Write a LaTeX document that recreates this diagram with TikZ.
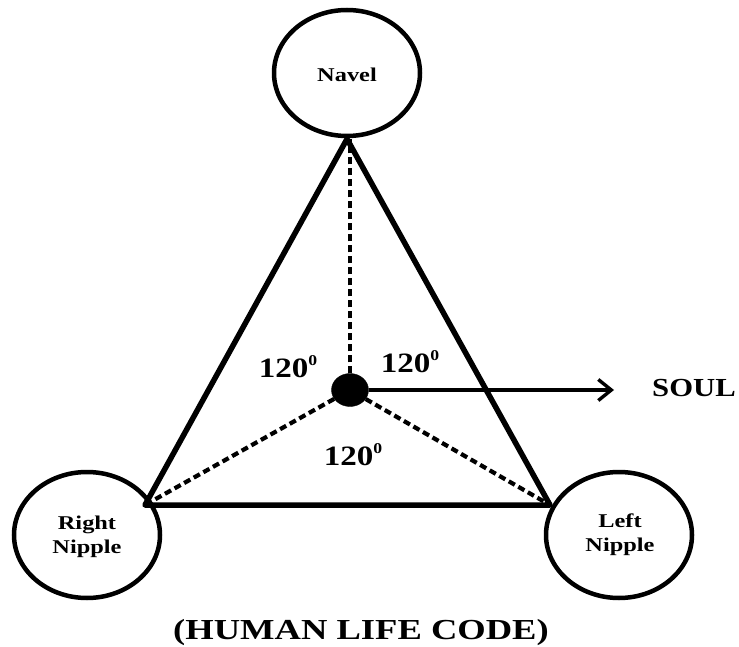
\documentclass[tikz,border=0pt]{standalone}
\usepackage{fontspec}
\setmainfont{Liberation Serif}
\usetikzlibrary{arrows.meta,shapes.geometric}
\newcommand\widetxt[2][1.25]{\scalebox{#1}[1]{#2}}
\newcommand\degz{\raisebox{0.42em}{\fontsize{15}{15}\selectfont 0}}
\tikzset{
  organ/.style={draw, line width=4.5pt, ellipse, minimum width=146pt, minimum height=126pt, inner sep=0pt},
  side/.style={line width=5.5pt, line cap=round, line join=round},
  dashline/.style={line width=4.2pt, dash pattern=on 7pt off 4pt},
  angle/.style={inner sep=0pt, align=center, font=\bfseries},
  small/.style={font=\fontsize{19.5}{24}\selectfont\bfseries},
  big/.style={font=\fontsize{28}{32}\selectfont\bfseries},
  soulline/.style={line width=3.4pt, -{Straight Barb[length=13pt, width=21pt, line width=3.4pt]}}
}
\begin{document}
\begin{tikzpicture}[x=1pt,y=-1pt]
\useasboundingbox (0,0) rectangle (739,647);
% organs
\node[organ] (navel) at (347,73) {};
\node[organ] (right) at (87,535) {};
\node[organ] (left) at (619,535) {};
\node[angle, small] (navelt) at (347,75) {\widetxt{Navel}};
\node[angle, small] (rightt) at (87,537) {\widetxt{Right}\\\widetxt{Nipple}};
\node[angle, small] (leftt) at (620,535) {\widetxt{Left}\\\widetxt{Nipple}};
% triangle vertices
\coordinate (apex) at (347,139);
\coordinate (lv) at (145,505);
\coordinate (rv) at (550,505);
% soul dot
\node[draw, fill=black, ellipse, minimum width=37pt, minimum height=33pt, inner sep=0pt] (dot) at (350,390) {};
% triangle
\draw[side] (apex) -- (lv) -- (rv) -- cycle;
% dashed lines
\draw[dashline] (dot) -- (dot.north |- apex);
\draw[dashline] (dot) -- (lv);
\draw[dashline] (dot) -- (rv);
% soul arrow
\node[angle, anchor=west, font=\fontsize{26}{30}\selectfont\bfseries] (soul) at (652,388) {\widetxt[1.18]{SOUL}};
\coordinate (soulend) at (614,390);
\draw[soulline] (dot.east) -- (soulend);
% angles
\node[angle, big] (a1) at (288,367) {\widetxt[1.18]{120\degz}};
\node[angle, big] (a2) at (410,362) {\widetxt[1.18]{120\degz}};
\node[angle, big] (a3) at (353,455) {\widetxt[1.18]{120\degz}};
% title
\node[angle, font=\fontsize{29}{33}\selectfont\bfseries] (title) at (361,633) {\widetxt[1.26]{(HUMAN LIFE CODE)}};
\end{tikzpicture}
\end{document}
